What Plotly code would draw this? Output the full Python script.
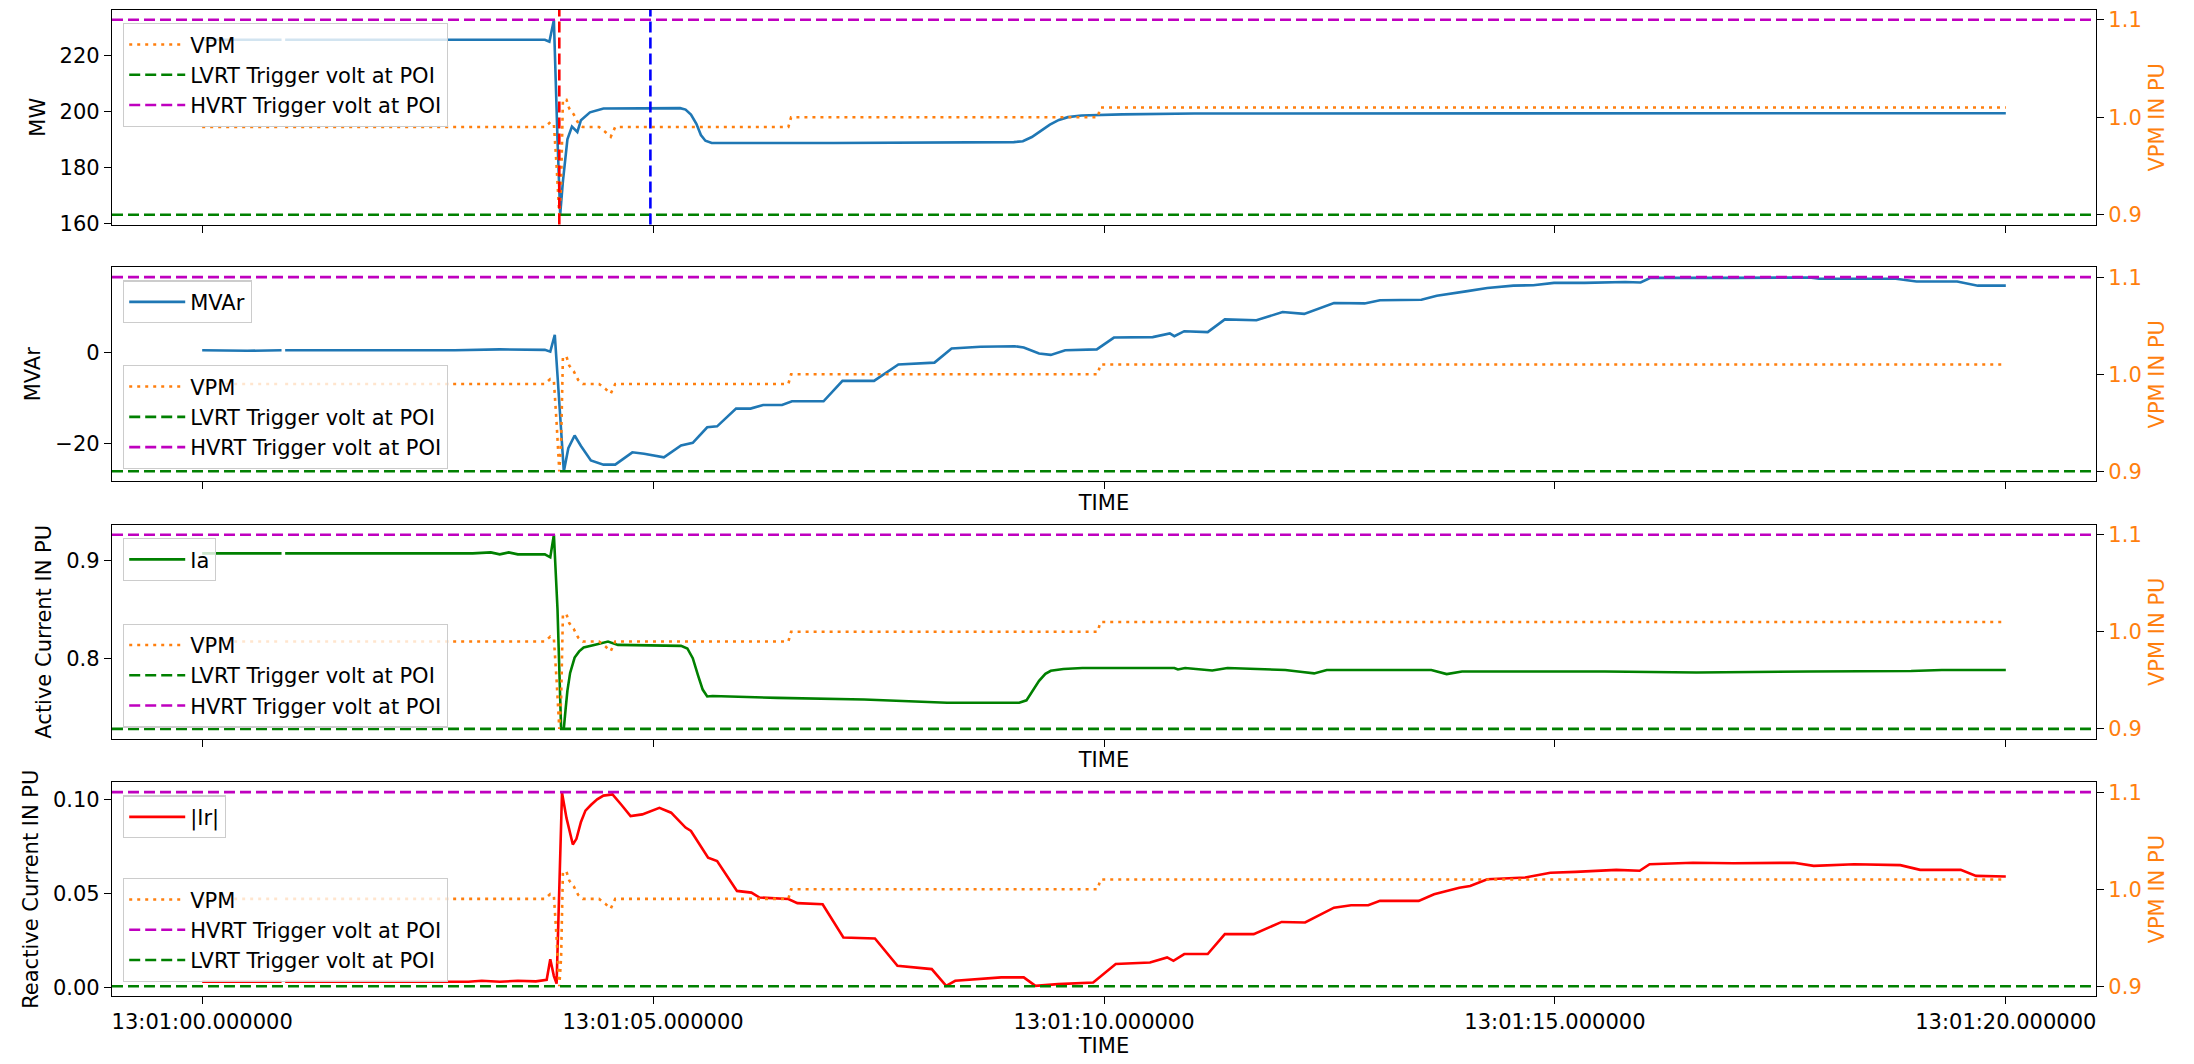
import pandas as pd
import plotly.graph_objects as go

# ---------------- data (seconds after 13:01:00) ----------------
BASE = "2023-01-01 13:01:00"

MW_T = [0.0, 0.88, 0.90, 0.92, 2.0, 3.0, 3.80, 3.85, 3.90, 3.94, 3.97, 4.00, 4.05, 4.10, 4.13, 4.16,
        4.20, 4.30, 4.45, 5.00, 5.30, 5.36, 5.42, 5.48, 5.53, 5.58, 5.65, 7.0, 8.0, 9.0, 9.10, 9.20,
        9.30, 9.40, 9.50, 9.60, 9.75, 10.2, 11.0, 15.0, 20.0]
MW = [225.5, 225.5, None, 225.5, 225.5, 225.5, 225.5, 224.8, 232.5, 190.0, 163.2, 175.0, 190.0, 194.5,
      193.5, 192.6, 196.8, 199.6, 201.0, 201.2, 201.1, 200.6, 198.8, 195.5, 191.5, 189.5, 188.7, 188.7,
      188.8, 189.0, 189.3, 190.8, 193.0, 195.2, 196.9, 197.9, 198.5, 198.9, 199.2, 199.3, 199.3]

MVAR_T = [0.0, 0.5, 0.88, 0.90, 0.92, 1.5, 2.2, 2.8, 3.3, 3.8, 3.86, 3.91, 3.95, 4.01, 4.06, 4.13, 4.20,
          4.31, 4.45, 4.58, 4.77, 4.90, 5.12, 5.31, 5.44, 5.60, 5.71, 5.92, 6.08, 6.22, 6.43, 6.54, 6.89,
          7.10, 7.45, 7.72, 8.12, 8.31, 8.63, 9.01, 9.11, 9.28, 9.41, 9.57, 9.92, 10.11, 10.54, 10.73,
          10.78, 10.89, 11.15, 11.34, 11.69, 11.98, 12.22, 12.55, 12.89, 13.06, 13.52, 13.69, 14.03,
          14.25, 14.54, 14.76, 14.99, 15.33, 15.78, 15.95, 16.06, 16.69, 16.97, 17.82, 17.93, 18.78,
          19.01, 19.46, 19.69, 20.0]
MVAR = [0.5, 0.4, 0.5, None, 0.5, 0.5, 0.6, 0.5, 0.7, 0.6, 0.2, 3.9, -8.0, -26.1, -21.0, -18.2, -20.5,
        -23.7, -24.6, -24.6, -21.9, -22.2, -23.0, -20.4, -19.8, -16.4, -16.2, -12.3, -12.3, -11.5, -11.5,
        -10.7, -10.7, -6.2, -6.2, -2.6, -2.2, 0.9, 1.3, 1.4, 1.1, -0.2, -0.5, 0.5, 0.7, 3.3, 3.4, 4.2,
        3.6, 4.7, 4.5, 7.3, 7.1, 8.9, 8.5, 10.9, 10.8, 11.5, 11.6, 12.5, 13.5, 14.2, 14.7, 14.8, 15.3,
        15.3, 15.5, 15.4, 16.4, 16.5, 16.4, 16.5, 16.2, 16.2, 15.6, 15.6, 14.7, 14.7]

IA_T = [0.0, 0.88, 0.90, 0.92, 2.5, 3.0, 3.2, 3.3, 3.4, 3.5, 3.8, 3.86, 3.90, 3.94, 3.98, 4.01, 4.03,
        4.05, 4.08, 4.13, 4.18, 4.23, 4.37, 4.50, 4.61, 5.31, 5.38, 5.44, 5.50, 5.55, 5.60, 5.66, 6.38,
        7.34, 8.26, 9.06, 9.14, 9.20, 9.28, 9.35, 9.41, 9.55, 9.76, 10.78, 10.82, 10.90, 11.20, 11.37,
        12.01, 12.20, 12.33, 12.47, 13.63, 13.80, 13.97, 15.55, 16.57, 17.82, 18.95, 19.29, 20.0]
IA = [0.907, 0.907, None, 0.907, 0.907, 0.907, 0.908, 0.906, 0.908, 0.906, 0.906, 0.903, 0.926, 0.850,
      0.728, 0.728, 0.748, 0.767, 0.785, 0.8007, 0.807, 0.811, 0.814, 0.817, 0.8136, 0.8126, 0.810,
      0.800, 0.782, 0.768, 0.761, 0.7615, 0.7595, 0.7578, 0.7545, 0.7545, 0.757, 0.766, 0.777, 0.784,
      0.7872, 0.789, 0.790, 0.790, 0.7885, 0.790, 0.7875, 0.790, 0.788, 0.786, 0.7845, 0.788, 0.788,
      0.7838, 0.7865, 0.7865, 0.7855, 0.7865, 0.787, 0.788, 0.788]

IR_T = [0.0, 0.88, 0.90, 0.92, 2.95, 3.1, 3.3, 3.5, 3.7, 3.82, 3.86, 3.90, 3.93, 3.99, 4.04, 4.11, 4.15,
        4.20, 4.25, 4.31, 4.38, 4.45, 4.55, 4.65, 4.75, 4.88, 5.07, 5.20, 5.36, 5.42, 5.61, 5.71, 5.93,
        6.09, 6.18, 6.50, 6.60, 6.88, 7.11, 7.46, 7.71, 8.09, 8.25, 8.35, 8.86, 9.11, 9.24, 9.49, 9.88,
        10.13, 10.51, 10.70, 10.77, 10.89, 11.15, 11.34, 11.66, 11.97, 12.23, 12.55, 12.74, 12.93,
        13.06, 13.49, 13.66, 13.94, 14.06, 14.25, 14.67, 14.95, 15.23, 15.68, 15.94, 16.05, 16.53,
        16.98, 17.65, 17.87, 18.32, 18.83, 19.05, 19.50, 19.67, 20.0]
IR = [0.003, 0.003, None, 0.003, 0.003, 0.0035, 0.003, 0.0035, 0.0032, 0.004, 0.015, 0.006, 0.002,
      0.1035, 0.090, 0.076, 0.079, 0.088, 0.094, 0.097, 0.100, 0.102, 0.1026, 0.097, 0.0911, 0.092,
      0.0955, 0.0929, 0.085, 0.0832, 0.069, 0.0672, 0.0513, 0.0504, 0.0478, 0.047, 0.0448, 0.0442,
      0.0265, 0.026, 0.0115, 0.0097, 0.0008, 0.0035, 0.0053, 0.0053, 0.0008, 0.0017, 0.0026, 0.0124,
      0.0132, 0.0159, 0.0141, 0.0177, 0.0177, 0.0283, 0.0283, 0.0348, 0.0345, 0.0424, 0.0437, 0.0437,
      0.046, 0.046, 0.0495, 0.053, 0.0539, 0.0575, 0.0584, 0.061, 0.0614, 0.0625, 0.062, 0.0655,
      0.0663, 0.066, 0.0663, 0.0646, 0.0655, 0.065, 0.0625, 0.0625, 0.0593, 0.059]

VPM_T = [0.0, 0.88, 0.90, 0.92, 3.80, 3.86, 3.90, 3.93, 3.96, 3.98, 4.00, 4.04, 4.07, 4.12, 4.17, 4.22,
         4.40, 4.47, 4.53, 4.58, 6.50, 6.53, 9.93, 9.96, 20.0]
VPM = [0.990, 0.990, None, 0.990, 0.990, 0.995, 0.993, 0.950, 0.900, 0.930, 1.018, 1.018, 1.009, 1.003,
       0.994, 0.990, 0.990, 0.985, 0.980, 0.990, 0.990, 1.000, 1.000, 1.010, 1.010]

LVRT_LEVEL = 0.9
HVRT_LEVEL = 1.1
FAULT_TIME = 3.96      # red dashed marker (top panel)
CLEAR_TIME = 4.97      # blue dashed marker (top panel)

X_RANGE_S = [-1.0, 21.0]
TICK_S = [0, 5, 10, 15, 20]
TICK_LABELS = ["13:01:00.000000", "13:01:05.000000", "13:01:10.000000",
               "13:01:15.000000", "13:01:20.000000"]

LEFT_TITLES = ["MW", "MVAr", "Active Current IN PU", "Reactive Current IN PU"]
LEFT_RANGES = [[159.6, 236.1], [-28.2, 18.7], [0.718, 0.936], [-0.0046, 0.109]]
LEFT_TICKS = [[160, 180, 200, 220], [-20, 0], [0.8, 0.9], [0.0, 0.05, 0.10]]
LEFT_TICK_LABELS = [["160", "180", "200", "220"], ["\u221220", "0"], ["0.8", "0.9"],
                    ["0.00", "0.05", "0.10"]]
RIGHT_RANGE = [0.89, 1.11]
RIGHT_TICKS = [0.9, 1.0, 1.1]
RIGHT_TICK_LABELS = ["0.9", "1.0", "1.1"]

# ---------------- helpers ----------------
base = pd.Timestamp(BASE)


def tt(seconds):
    return [base + pd.Timedelta(seconds=s) for s in seconds]


FONT = "DejaVu Sans"
FS = 21
LFS = 21
BLUE = "#1f77b4"
ORANGE = "#ff7f0e"
GREEN = "#008000"
MAGENTA = "#bf00bf"
RED = "#ff0000"
LW = 2.6
DASH = "11px,5px"
DOT = "3px,5px"

fig = go.Figure()

domains = [[0.7824, 1.0], [0.5223, 0.7389], [0.2611, 0.4777], [0.0, 0.2166]]

main_series = [
    (MW_T, MW, BLUE, None, None),
    (MVAR_T, MVAR, BLUE, "MVAr", "legend2"),
    (IA_T, IA, GREEN, "Ia", "legend4"),
    (IR_T, IR, RED, "|Ir|", "legend6"),
]
group_legends = ["legend", "legend3", "legend5", "legend7"]

for i in range(4):
    n = i + 1
    xa = "x" if n == 1 else f"x{n}"
    ya = "y" if n == 1 else f"y{n}"
    yr = f"y{n + 4}"
    ts, vals, col, name, leg = main_series[i]
    fig.add_trace(go.Scatter(x=tt(ts), y=vals, mode="lines", name=name or "MW",
                             line=dict(color=col, width=LW), xaxis=xa, yaxis=ya,
                             showlegend=name is not None, legend=leg or "legend",
                             connectgaps=False))
    vpm = go.Scatter(x=tt(VPM_T), y=VPM, mode="lines", name="VPM",
                     line=dict(color=ORANGE, width=LW, dash=DOT), xaxis=xa, yaxis=yr,
                     legend=group_legends[i], connectgaps=False)
    lv = go.Scatter(x=tt(X_RANGE_S), y=[LVRT_LEVEL, LVRT_LEVEL], mode="lines",
                    name="LVRT Trigger volt at POI", line=dict(color=GREEN, width=LW, dash=DASH),
                    xaxis=xa, yaxis=yr, legend=group_legends[i])
    hv = go.Scatter(x=tt(X_RANGE_S), y=[HVRT_LEVEL, HVRT_LEVEL], mode="lines",
                    name="HVRT Trigger volt at POI", line=dict(color=MAGENTA, width=LW, dash=DASH),
                    xaxis=xa, yaxis=yr, legend=group_legends[i])
    order = (vpm, hv, lv) if n == 4 else (vpm, lv, hv)
    for tr in order:
        fig.add_trace(tr)

axis_common = dict(showline=True, linecolor="black", linewidth=1.3, mirror=True,
                   ticks="outside", ticklen=7, tickwidth=1.3, tickcolor="black",
                   showgrid=False, zeroline=False,
                   tickfont=dict(family=FONT, size=FS, color="black"))

layout = dict(width=2194, height=1064, margin=dict(l=112, r=98, t=8, b=68),
              paper_bgcolor="white", plot_bgcolor="white",
              font=dict(family=FONT, size=FS, color="black"), showlegend=True)

for i in range(4):
    n = i + 1
    xk = "xaxis" if n == 1 else f"xaxis{n}"
    yk = "yaxis" if n == 1 else f"yaxis{n}"
    ya = "y" if n == 1 else f"y{n}"
    xa = "x" if n == 1 else f"x{n}"
    xax = dict(axis_common, domain=[0, 1], anchor=ya, type="date",
               range=tt(X_RANGE_S), tickmode="array", tickvals=tt(TICK_S),
               ticktext=TICK_LABELS if n == 4 else [""] * len(TICK_S))
    if n > 1:
        xax["title"] = dict(text="TIME", font=dict(family=FONT, size=FS), standoff=2)
        xax["matches"] = "x"
    layout[xk] = xax
    layout[yk] = dict(axis_common, domain=domains[i], anchor=xa, range=LEFT_RANGES[i],
                      tickmode="array", tickvals=LEFT_TICKS[i], ticktext=LEFT_TICK_LABELS[i],
                      title=dict(text=LEFT_TITLES[i], font=dict(family=FONT, size=FS), standoff=8))
    layout[f"yaxis{n + 4}"] = dict(axis_common, overlaying=ya, side="right", anchor=xa,
                                  range=RIGHT_RANGE, tickmode="array", tickvals=RIGHT_TICKS,
                                  ticktext=RIGHT_TICK_LABELS, mirror=False,
                                  tickfont=dict(family=FONT, size=FS, color=ORANGE),
                                  title=dict(text="VPM IN PU",
                                             font=dict(family=FONT, size=FS, color=ORANGE),
                                             standoff=8))


def legend_box(x, y, yanchor):
    return dict(x=x, y=y, xanchor="left", yanchor=yanchor, xref="paper", yref="paper",
                bgcolor="rgba(255,255,255,0.8)", bordercolor="#cccccc", borderwidth=1.3,
                font=dict(family=FONT, size=LFS), itemwidth=56, tracegroupgap=0,
                traceorder="normal")


layout["legend"] = legend_box(0.0055, 0.9868, "top")
layout["legend2"] = legend_box(0.0055, 0.7257, "top")
layout["legend3"] = legend_box(0.0055, 0.5344, "bottom")
layout["legend4"] = legend_box(0.0055, 0.4646, "top")
layout["legend5"] = legend_box(0.0055, 0.2723, "bottom")
layout["legend6"] = legend_box(0.0055, 0.2034, "top")
layout["legend7"] = legend_box(0.0055, 0.0142, "bottom")

layout["shapes"] = [
    dict(type="line", xref="x", yref="y domain", x0=tt([FAULT_TIME])[0], x1=tt([FAULT_TIME])[0],
         y0=0, y1=1, line=dict(color=RED, width=LW, dash=DASH), layer="above"),
    dict(type="line", xref="x", yref="y domain", x0=tt([CLEAR_TIME])[0], x1=tt([CLEAR_TIME])[0],
         y0=0, y1=1, line=dict(color="#0000ff", width=LW, dash=DASH), layer="above"),
]

fig.update_layout(layout)
fig.write_html("out.html")
